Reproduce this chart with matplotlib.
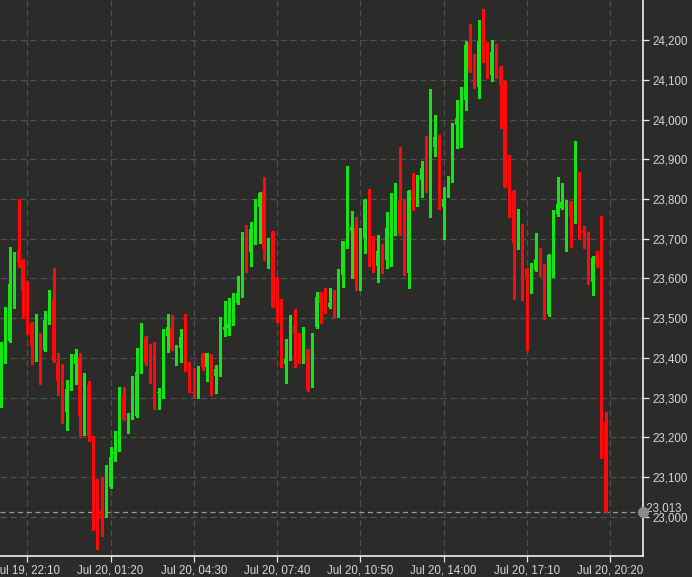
import numpy as np
import pandas as pd
import matplotlib
matplotlib.use("Agg")
import matplotlib.pyplot as plt
import matplotlib.transforms as mtransforms

# 10-minute candles, Jul 19 21:10 -> Jul 20 20:10
start = pd.Timestamp("2023-07-19 21:10")

opens = [23280, 23416, 23442, 23584, 23670, 23643, 23572, 23488, 23448, 23461,
         23420, 23490, 23549, 23387, 23335, 23264, 23320, 23385, 23402, 23249,
         23331, 23202, 23092, 23017, 23000, 23075, 23159, 23168, 23305, 23245,
         23248, 23254, 23365, 23453, 23386, 23438, 23312, 23319, 23455, 23476,
         23430, 23426, 23463, 23369, 23315, 23311, 23409, 23378, 23407, 23355,
         23357, 23470, 23474, 23487, 23537, 23554, 23678, 23667, 23715, 23781,
         23819, 23673, 23718, 23565, 23497, 23384, 23396, 23481, 23460, 23394,
         23421, 23373, 23478, 23565, 23533, 23527, 23541, 23520, 23609, 23678,
         23720, 23728, 23600, 23701, 23795, 23705, 23632, 23673, 23646, 23724,
         23785, 23797, 23797, 23613, 23804, 23802, 23848, 23884, 23877, 23932,
         23947, 23781, 23824, 23845, 23986, 24001, 24048, 24192, 24121, 24081,
         24201, 24192, 24112, 24169, 24133, 24096, 23862, 23821, 23676, 23690,
         23623, 23607, 23621, 23651, 23609, 23510, 23655, 23762, 23777, 23785,
         23793, 23741, 23838, 23722, 23714, 23592, 23660, 23651, 23239]
closes = [23413, 23444, 23586, 23655, 23641, 23572, 23469, 23429, 23456, 23420,
          23494, 23544, 23392, 23342, 23270, 23321, 23389, 23409, 23253, 23320,
          23202, 23102, 23037, 22993, 23120, 23151, 23163, 23309, 23246, 23248,
          23256, 23364, 23448, 23386, 23369, 23315, 23315, 23470, 23478, 23422,
          23431, 23453, 23369, 23315, 23311, 23378, 23378, 23411, 23359, 23371,
          23483, 23478, 23485, 23540, 23562, 23678, 23667, 23724, 23782, 23816,
          23673, 23699, 23529, 23491, 23378, 23396, 23495, 23459, 23393, 23424,
          23319, 23460, 23554, 23537, 23527, 23539, 23522, 23621, 23693, 23715,
          23729, 23598, 23703, 23797, 23705, 23634, 23670, 23646, 23726, 23774,
          23797, 23712, 23611, 23820, 23799, 23846, 23879, 23859, 23944, 23957,
          23789, 23799, 23841, 23989, 24003, 24056, 24188, 24121, 24081, 24199,
          24196, 24112, 24171, 24133, 24087, 23831, 23816, 23688, 23697, 23630,
          23604, 23625, 23648, 23607, 23508, 23659, 23764, 23788, 23793, 23796,
          23754, 23808, 23724, 23714, 23589, 23651, 23640, 23237, 23013]
highs = [23440, 23528, 23680, 23666, 23800, 23649, 23593, 23490, 23511, 23463,
         23519, 23570, 23626, 23413, 23385, 23343, 23409, 23423, 23413, 23362,
         23342, 23204, 23094, 23100, 23130, 23175, 23215, 23327, 23327, 23260,
         23353, 23424, 23488, 23455, 23435, 23440, 23323, 23472, 23510, 23508,
         23433, 23473, 23510, 23390, 23374, 23380, 23411, 23413, 23409, 23382,
         23504, 23543, 23550, 23564, 23606, 23718, 23735, 23743, 23799, 23818,
         23855, 23701, 23720, 23603, 23547, 23447, 23508, 23522, 23462, 23478,
         23423, 23462, 23567, 23567, 23575, 23575, 23572, 23623, 23695, 23883,
         23770, 23754, 23728, 23799, 23824, 23707, 23709, 23686, 23766, 23814,
         23841, 23930, 23799, 23822, 23865, 23860, 23896, 23959, 24076, 24012,
         23961, 23831, 23858, 23991, 24049, 24081, 24199, 24241, 24165, 24251,
         24278, 24194, 24201, 24190, 24135, 24098, 23911, 23823, 23774, 23737,
         23625, 23638, 23715, 23676, 23636, 23662, 23772, 23855, 23840, 23798,
         23795, 23945, 23869, 23732, 23716, 23657, 23670, 23757, 23264]
lows = [23276, 23387, 23440, 23526, 23628, 23501, 23461, 23385, 23392, 23335,
        23418, 23486, 23390, 23306, 23236, 23219, 23318, 23335, 23201, 23205,
        23191, 22966, 22918, 22952, 22998, 23072, 23140, 23165, 23244, 23210,
        23246, 23252, 23363, 23382, 23337, 23270, 23270, 23298, 23415, 23420,
        23382, 23390, 23367, 23313, 23302, 23300, 23369, 23342, 23306, 23312,
        23355, 23455, 23458, 23483, 23535, 23552, 23617, 23631, 23687, 23688,
        23646, 23627, 23527, 23489, 23376, 23336, 23394, 23378, 23388, 23386,
        23317, 23327, 23475, 23487, 23514, 23525, 23502, 23504, 23579, 23676,
        23602, 23572, 23571, 23663, 23630, 23617, 23592, 23613, 23625, 23630,
        23709, 23710, 23609, 23575, 23771, 23782, 23806, 23818, 23755, 23907,
        23774, 23698, 23806, 23843, 23929, 23932, 24023, 24119, 24079, 24054,
        24146, 24104, 24098, 24104, 23978, 23829, 23754, 23547, 23673, 23546,
        23420, 23564, 23619, 23605, 23497, 23505, 23603, 23757, 23775, 23670,
        23680, 23739, 23698, 23676, 23587, 23558, 23628, 23147, 23013]

last_price = 23013
y_ticks = list(range(23000, 24201, 100))
x_tick_idx = list(range(6, 140, 19))

bg = '#2b2c2a'
up_col = '#14e614'
down_col = '#ff0a0a'
txt_col = '#d6d6d6'

plt.rcParams['font.family'] = ['Liberation Sans', 'DejaVu Sans']

o = np.array(opens)
c = np.array(closes)
h = np.array(highs)
l = np.array(lows)
idx = np.arange(len(o))
cols = np.where(c >= o, up_col, down_col)

fig = plt.figure(figsize=(6.92, 5.77), dpi=100, facecolor=bg)
ax = fig.add_axes([0, 1 - 556 / 577, 643 / 692, 556 / 577], facecolor=bg)

# grid
for yv in y_ticks:
    ax.axhline(yv, color='#50514f', lw=0.9, ls=(0, (5, 3)), zorder=0)
for xv in x_tick_idx:
    ax.axvline(xv, color='#50514f', lw=0.9, ls=(0, (5, 3)), zorder=0)

# candles
ax.vlines(idx, l, h, colors=cols, lw=0.75, antialiased=False, zorder=2)
body_bottom = np.minimum(o, c)
body_h = np.maximum(np.abs(c - o), 2.5)
ax.bar(idx, body_h, bottom=body_bottom, width=0.68, color=cols, lw=0, zorder=3)

# last price line and marker
ax.axhline(last_price, color='#9a9a9a', lw=0.9, ls=(0, (4, 3)), zorder=1)
trans = mtransforms.blended_transform_factory(ax.transAxes, ax.transData)
ax.plot([1.0], [last_price], 'o', color='#8a8a8a', ms=7, transform=trans,
        clip_on=False, zorder=5)
ax.text(1.0, last_price + 8, ' {:,}'.format(last_price), transform=trans,
        color=txt_col, fontsize=8.3, va='center', ha='left')

ax.set_xlim(-0.23, 146.5)
ax.set_ylim(22901, 24301)

ax.yaxis.tick_right()
ax.set_yticks(y_ticks)
ax.set_yticklabels(['{:,}'.format(v) for v in y_ticks])
labels = [(start + pd.Timedelta(minutes=10 * i)).strftime('%b %d, %H:%M') for i in x_tick_idx]
ax.set_xticks(x_tick_idx)
ax.set_xticklabels(labels)
ax.tick_params(colors='#e6e6e6', labelcolor=txt_col, labelsize=8.3, length=4, width=0.9)
ax.tick_params(axis='y', pad=3)
ax.tick_params(axis='x', pad=2)

for side in ['left', 'top']:
    ax.spines[side].set_visible(False)
for side in ['right', 'bottom']:
    ax.spines[side].set_color('#f0f0f0')
    ax.spines[side].set_linewidth(1.2)

fig.savefig('out.png', dpi=100, facecolor=bg)
